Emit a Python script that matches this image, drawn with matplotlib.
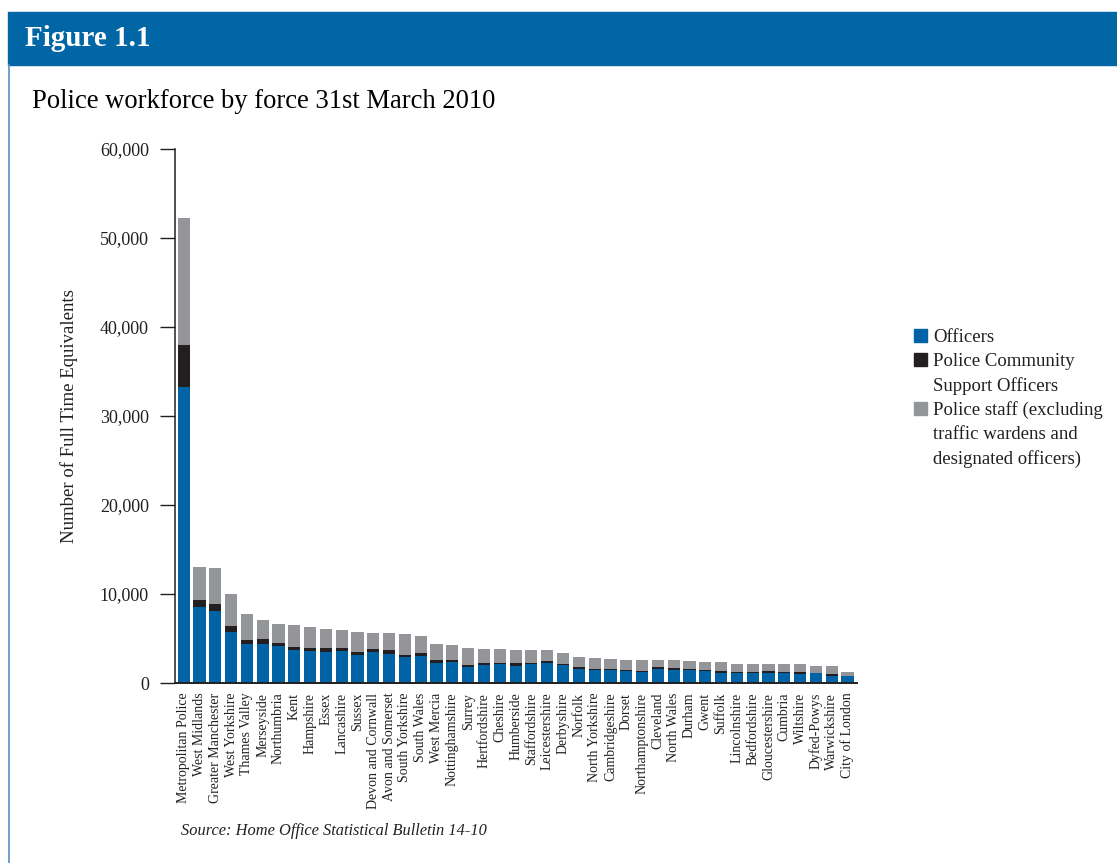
import matplotlib
matplotlib.use("Agg")
import matplotlib.pyplot as plt
from matplotlib.patches import Rectangle, Patch
from matplotlib.ticker import FuncFormatter

# forces, sorted by total workforce
forces = ["Metropolitan Police", "West Midlands", "Greater Manchester", "West Yorkshire",
          "Thames Valley", "Merseyside", "Northumbria", "Kent", "Hampshire", "Essex",
          "Lancashire", "Sussex", "Devon and Cornwall", "Avon and Somerset", "South Yorkshire",
          "South Wales", "West Mercia", "Nottinghamshire", "Surrey", "Hertfordshire",
          "Cheshire", "Humberside", "Staffordshire", "Leicestershire", "Derbyshire",
          "Norfolk", "North Yorkshire", "Cambridgeshire", "Dorset", "Northamptonshire",
          "Cleveland", "North Wales", "Durham", "Gwent", "Suffolk", "Lincolnshire",
          "Bedfordshire", "Gloucestershire", "Cumbria", "Wiltshire", "Dyfed-Powys",
          "Warwickshire", "City of London"]

officers = [33300, 8540, 8090, 5730, 4380, 4380, 4160, 3710, 3600, 3480,
            3600, 3150, 3480, 3260, 2920, 3030, 2250, 2360, 1800, 2020,
            2135, 1910, 2135, 2250, 2020, 1570, 1460, 1460, 1350, 1240,
            1570, 1460, 1460, 1350, 1125, 1125, 1125, 1125, 1125, 1010,
            1120, 790, 790]
pcso = [4700, 790, 790, 674, 450, 560, 340, 340, 340, 450,
        340, 340, 340, 450, 225, 340, 340, 225, 225, 225,
        110, 340, 110, 225, 110, 225, 110, 110, 110, 110,
        225, 225, 110, 110, 225, 110, 110, 225, 110, 225,
        30, 225, 0]
staff = [14200, 3670, 4020, 3596, 2920, 2140, 2130, 2470, 2360, 2140,
         2020, 2250, 1800, 1910, 2360, 1910, 1800, 1690, 1910, 1570,
         1575, 1460, 1460, 1235, 1240, 1125, 1240, 1125, 1125, 1235,
         785, 900, 900, 900, 1010, 900, 900, 785, 900, 900,
         760, 895, 450]

legend_labels = ["Officers", "Police Community", "Support Officers",
                 "Police staff (excluding", "traffic wardens and", "designated officers)"]

c_off = "#0063a6"
c_pcso = "#231f20"
c_staff = "#939598"
serif = ["Liberation Serif", "DejaVu Serif"]

W, H = 1117, 863
fig = plt.figure(figsize=(W / 100, H / 100), dpi=100)

# header band and frame
fig.patches.append(Rectangle((8 / W, 1 - 65 / H), 1 - 8 / W, 53 / H,
                             transform=fig.transFigure, color="#0066a6", zorder=0))
fig.lines.append(plt.Line2D([8.5 / W, 8.5 / W], [0, 1 - 65 / H], transform=fig.transFigure,
                            color="#5b8fc4", lw=1.2))
fig.text(25 / W, 1 - 39 / H, "Figure 1.1", color="white", fontsize=21, fontweight="bold",
         family=serif, va="center", ha="left")
fig.text(32 / W, 1 - 102 / H, "Police workforce by force 31st March 2010", color="black",
         fontsize=19.2, family=serif, va="center", ha="left")

ax = fig.add_axes([175 / W, 1 - 683 / H, 682 / W, 534 / H])
x = range(len(forces))
bottom2 = [o + p for o, p in zip(officers, pcso)]
b1 = ax.bar(x, officers, width=0.77, color=c_off, linewidth=0)
b2 = ax.bar(x, pcso, width=0.77, bottom=officers, color=c_pcso, linewidth=0)
b3 = ax.bar(x, staff, width=0.77, bottom=bottom2, color=c_staff, linewidth=0)

ax.set_xlim(-0.55, len(forces) - 0.4)
ax.set_ylim(0, 60000)
ax.set_yticks(range(0, 60001, 10000))
ax.yaxis.set_major_formatter(FuncFormatter(lambda v, p: f"{int(v):,}"))
ax.set_xticks(list(x))
ax.set_xticklabels(forces, rotation=90, fontsize=10, family=serif, color="#231f20")
ax.tick_params(axis="x", length=0, pad=7)
ax.tick_params(axis="y", length=10.8, width=1, direction="out", pad=8, labelsize=13,
               labelcolor="#231f20", color="#231f20")
for lbl in ax.get_yticklabels():
    lbl.set_family(serif)
ax.spines["top"].set_visible(False)
ax.spines["right"].set_visible(False)
ax.spines["left"].set_color("#231f20")
ax.spines["bottom"].set_color("#231f20")
ax.spines["left"].set_linewidth(1.1)
ax.spines["bottom"].set_linewidth(1.4)
ax.set_ylabel("Number of Full Time Equivalents", fontsize=13.5, family=serif,
              color="#231f20", labelpad=16)

# legend: one entry per text line, blank handles on continuation lines
blank = Patch(facecolor="none", edgecolor="none")
handles = [Patch(color=c_off), Patch(color=c_pcso), blank,
           Patch(color=c_staff), blank, blank]
leg = fig.legend(handles, legend_labels, loc="upper left",
                 bbox_to_anchor=(914 / W, 1 - 329 / H), frameon=False,
                 prop={"family": serif, "size": 13.5}, handlelength=0.7, handleheight=0.7,
                 handletextpad=0.3, labelspacing=0.36, borderpad=0, borderaxespad=0)
for t in leg.get_texts():
    t.set_color("#231f20")

fig.text(181 / W, 1 - 831 / H, "Source: Home Office Statistical Bulletin 14-10",
         fontsize=11.8, style="italic", family=serif, color="#231f20", va="center")

fig.savefig("out.png", dpi=100)
